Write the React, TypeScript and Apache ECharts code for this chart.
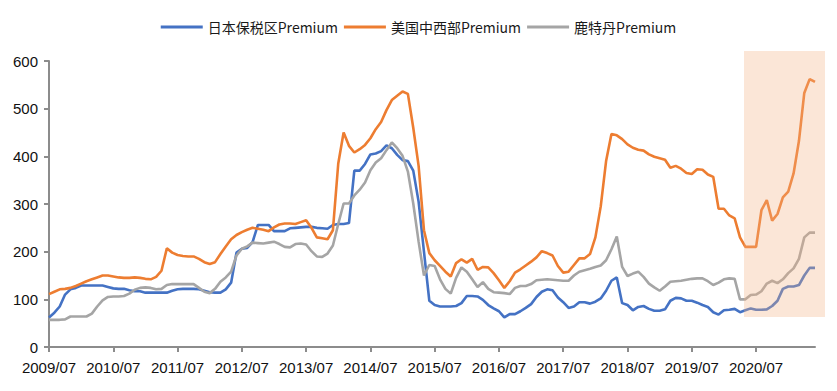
import React, { useEffect, useRef } from "react";
import * as echarts from "echarts";

// Monthly categories 2009/07 .. 2021/06
const startYear = 2009;
const startMonth = 7;
const monthCount = 144;
const categories: string[] = [];
for (let k = 0; k < monthCount; k++) {
  const m = startMonth - 1 + k;
  const y = startYear + Math.floor(m / 12);
  const mm = (m % 12) + 1;
  categories.push(`${y}/${mm < 10 ? "0" + mm : mm}`);
}

const seriesNames = ["日本保税区Premium", "美国中西部Premium", "鹿特丹Premium"];

const japanPremium = [
  62, 72, 85, 110, 121, 124, 129, 129, 129, 129, 129, 126,
  123, 122, 122, 119, 117, 117, 114, 114, 114, 114, 114, 118,
  121, 122, 122, 122, 121, 118, 115, 114, 114, 121, 135, 198,
  206, 208, 220, 256, 256, 256, 243, 243, 243, 249, 250, 251,
  252, 252, 250, 249, 248, 256, 258, 258, 260, 370, 370, 384,
  404, 406, 411, 423, 417, 403, 392, 390, 370, 305, 200, 97,
  88, 85, 85, 85, 86, 92, 107, 107, 106, 99, 88, 81,
  75, 62, 69, 69, 75, 82, 90, 105, 116, 121, 119, 104,
  94, 82, 85, 94, 94, 91, 95, 102, 118, 139, 146, 92,
  88, 77, 84, 86, 80, 76, 76, 79, 97, 103, 102, 97,
  97, 93, 88, 84, 73, 68, 77, 78, 80, 73, 77, 81,
  78, 78, 79, 86, 97, 122, 127, 127, 130, 150, 166, 166,
];

const usMidwestPremium = [
  111, 116, 121, 122, 124, 128, 133, 138, 142, 146, 150, 150,
  148, 146, 145, 145, 146, 145, 143, 142, 147, 160, 207, 198,
  193, 191, 190, 190, 185, 178, 174, 178, 195, 211, 226, 235,
  241, 246, 250, 248, 246, 243, 251, 257, 259, 259, 258, 262,
  266, 250, 230, 228, 226, 245, 385, 450, 422, 408, 415, 424,
  438, 457, 472, 497, 518, 527, 536, 531, 460, 380, 245, 197,
  182, 170, 158, 148, 176, 184, 177, 185, 162, 168, 167, 155,
  140, 124, 138, 156, 163, 171, 179, 188, 201, 197, 192, 170,
  156, 158, 172, 186, 186, 195, 230, 295, 390, 447, 444, 436,
  425, 418, 414, 412, 404, 399, 396, 393, 376, 380, 374, 365,
  363, 373, 372, 362, 357, 290, 290, 276, 270, 230, 210, 210,
  210, 287, 308, 265, 279, 314, 326, 364, 432, 533, 562, 556,
];

const rotterdamPremium = [
  57, 57, 57, 58, 64, 64, 64, 64, 70, 85, 98, 105,
  106, 106, 107, 112, 120, 124, 125, 124, 121, 122, 130, 132,
  132, 132, 132, 132, 124, 116, 113, 122, 137, 146, 158, 192,
  206, 211, 219, 218, 217, 219, 221, 216, 210, 209, 216, 217,
  215, 201, 190, 189, 196, 213, 258, 301, 301, 318, 330, 345,
  371, 387, 396, 413, 429, 417, 401, 368, 301, 221, 150, 172,
  170, 142, 122, 112, 145, 167, 158, 142, 126, 136, 122, 115,
  114, 113, 111, 124, 128, 128, 132, 140, 141, 142, 141, 140,
  139, 139, 150, 158, 161, 164, 168, 171, 182, 205, 232, 168,
  149, 154, 158, 147, 133, 125, 118, 127, 137, 138, 139, 141,
  143, 144, 144, 138, 130, 135, 142, 144, 143, 100, 100, 109,
  110, 117, 133, 139, 134, 142, 155, 165, 185, 230, 240, 240,
];

const colors = ["#4472C4", "#ED7D31", "#A5A5A5"];

export default function App() {
  const ref = useRef<HTMLDivElement>(null);
  useEffect(() => {
    if (!ref.current) return;
    const chart = echarts.init(ref.current, undefined, { renderer: "svg" });
    const axisColor = "#8c8c8c";
    const mk = (name: string, data: number[], color: string) => ({
      name,
      type: "line",
      data,
      symbol: "none",
      showSymbol: false,
      lineStyle: { width: 2.6, color },
      itemStyle: { color },
      z: 2,
    });
    chart.setOption({
      animation: false,
      backgroundColor: "#ffffff",
      textStyle: { fontFamily: "Liberation Sans, Arial, sans-serif" },
      legend: {
        top: 15,
        left: "center",
        icon: "rect",
        itemWidth: 42,
        itemHeight: 3,
        itemGap: 6,
        textStyle: {
          fontFamily: "Noto Sans CJK SC",
          fontSize: 14,
          color: "#1a1a1a",
        },
        data: seriesNames,
      },
      grid: { left: 49, right: 22, top: 61, bottom: 44 },
      xAxis: {
        type: "category",
        data: categories,
        boundaryGap: false,
        axisLine: { show: true, lineStyle: { color: axisColor, width: 2 } },
        axisTick: { show: true, interval: 11, length: 5, lineStyle: { color: axisColor, width: 2 } },
        axisLabel: {
          interval: 11,
          color: "#111",
          fontSize: 15,
          margin: 13,
          fontFamily: "Liberation Sans, Arial, sans-serif",
        },
        splitLine: { show: false },
      },
      yAxis: {
        type: "value",
        min: 0,
        max: 600,
        interval: 100,
        axisLine: { show: true, lineStyle: { color: axisColor, width: 2 } },
        axisTick: { show: true, length: 5, lineStyle: { color: axisColor, width: 2 } },
        axisLabel: {
          color: "#111",
          fontSize: 15,
          margin: 11,
          fontFamily: "Liberation Sans, Arial, sans-serif",
        },
        splitLine: { show: false },
      },
      series: [
        mk(seriesNames[0], japanPremium, colors[0]),
        mk(seriesNames[1], usMidwestPremium, colors[1]),
        mk(seriesNames[2], rotterdamPremium, colors[2]),
      ],
      graphic: [
        {
          type: "rect",
          z: 100,
          silent: true,
          shape: { x: 744, y: 51, width: 81, height: 266 },
          style: { fill: "rgba(244,177,131,0.32)" },
        },
      ],
    });
    return () => chart.dispose();
  }, []);
  return (
    <div
      ref={ref}
      style={{ position: "fixed", left: 0, top: 0, width: 837, height: 391, background: "#fff" }}
    />
  );
}
